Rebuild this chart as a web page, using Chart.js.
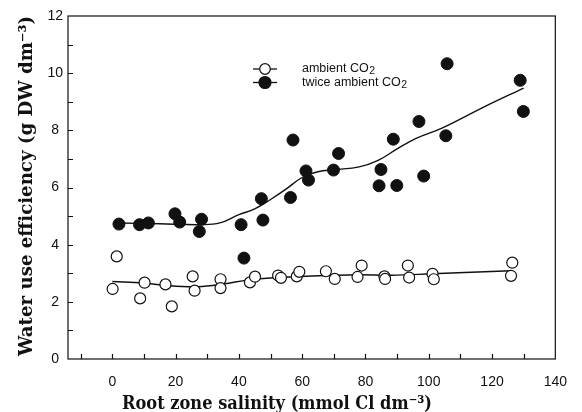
<!DOCTYPE html>
<html>
<head>
<meta charset="utf-8">
<title>Water use efficiency vs root zone salinity</title>
<script src="https://cdn.jsdelivr.net/npm/chart.js@4.4.1/dist/chart.umd.min.js"></script>
<style>
  html, body { margin: 0; padding: 0; background: #fff; }
  canvas { display: block; }
</style>
</head>
<body>
<canvas id="wue" width="582" height="412"></canvas>
<script>
// ambient CO2: root zone salinity (mmol Cl dm-3) and WUE (g DW dm-3)
var ambientX = [0.1, 1.4, 8.8, 10.2, 16.8, 18.8, 25.4, 26.0, 34.2, 34.2, 43.5, 45.1, 52.4, 53.3,
                58.3, 59.1, 67.5, 70.3, 77.5, 78.8, 86.0, 86.2, 93.4, 93.8, 101.2, 101.6, 126.0, 126.4];
var ambientY = [2.45, 3.59, 2.12, 2.67, 2.61, 1.84, 2.89, 2.39, 2.79, 2.48, 2.68, 2.88, 2.92, 2.84,
                2.89, 3.05, 3.07, 2.80, 2.87, 3.27, 2.89, 2.80, 3.27, 2.85, 2.98, 2.79, 2.91, 3.37];

// twice ambient CO2
var twiceX = [2.1, 8.6, 11.4, 19.8, 21.3, 27.5, 28.2, 40.7, 41.6, 47.1, 47.6, 56.3, 57.1, 61.2,
              62.0, 69.9, 71.5, 84.9, 84.3, 89.9, 88.8, 96.9, 98.4, 105.4, 105.8, 128.9, 129.9];
var twiceY = [4.72, 4.70, 4.76, 5.08, 4.79, 4.46, 4.89, 4.70, 3.53, 5.61, 4.86, 5.65, 7.66, 6.58,
              6.26, 6.61, 7.19, 6.63, 6.06, 6.07, 7.69, 8.31, 6.40, 7.81, 10.33, 9.75, 8.66];

// smoothed trend lines
var ambientFitX = [0, 10, 17, 27, 35, 43, 51, 58, 68, 78, 88, 101, 126];
var ambientFitY = [2.71, 2.66, 2.57, 2.53, 2.62, 2.77, 2.84, 2.88, 2.92, 2.95, 2.93, 2.98, 3.09];
var twiceFitX = [2, 15, 28, 34, 40, 45, 50, 55, 60, 65, 70, 78, 84, 90, 96, 104, 118, 130];
var twiceFitY = [4.76, 4.73, 4.70, 4.76, 5.05, 5.25, 5.58, 5.95, 6.35, 6.55, 6.62, 6.72, 6.95,
                 7.35, 7.72, 8.07, 8.85, 9.48];

var xTickLabels = [0, 20, 40, 60, 80, 100, 120, 140];
var yTickLabels = [0, 2, 4, 6, 8, 10, 12];

function pairs(xs, ys) {
    return xs.map(function (x, i) { return { x: x, y: ys[i] }; });
}

// frame, inward ticks, axis titles and the legend box
var decorations = {
    id: 'decorations',
    afterDraw: function (chart) {
        var ctx = chart.ctx, a = chart.chartArea;
        var xs = chart.scales.x, ys = chart.scales.y;
        ctx.save();
        ctx.strokeStyle = '#111';
        ctx.lineWidth = 1.2;
        ctx.strokeRect(a.left, a.top, a.right - a.left, a.bottom - a.top);

        ctx.beginPath();
        for (var v = -10; v < 140; v += 10) {
            var px = Math.round(xs.getPixelForValue(v)) + 0.5;
            ctx.moveTo(px, a.bottom);
            ctx.lineTo(px, a.bottom - 5);
        }
        for (var w = 1; w < 12; w++) {
            var py = Math.round(ys.getPixelForValue(w)) + 0.5;
            ctx.moveTo(a.left, py);
            ctx.lineTo(a.left + 5, py);
        }
        ctx.stroke();

        // axis titles
        ctx.fillStyle = '#111';
        ctx.font = 'bold 19px "DejaVu Serif"';
        ctx.textAlign = 'center';
        ctx.textBaseline = 'alphabetic';
        ctx.fillText('Root zone salinity (mmol Cl dm\u207B\u00B3)', 277, 409, 310);

        ctx.save();
        ctx.translate(32, 186);
        ctx.rotate(-Math.PI / 2);
        ctx.fillText('Water use efficiency (g DW dm\u207B\u00B3)', 0, 0, 340);
        ctx.restore();

        // legend
        var rows = [
            { label: 'ambient CO', fill: '#fff', r: 5.3, y: 69 },
            { label: 'twice ambient CO', fill: '#111', r: 6, y: 82.5 }
        ];
        var mainFont = '12.5px "Liberation Sans", Arial, sans-serif';
        var subFont = '10.5px "Liberation Sans", Arial, sans-serif';
        ctx.textAlign = 'left';
        ctx.textBaseline = 'middle';
        rows.forEach(function (row) {
            ctx.beginPath();
            ctx.moveTo(253, row.y);
            ctx.lineTo(277, row.y);
            ctx.lineWidth = 1.3;
            ctx.stroke();
            ctx.beginPath();
            ctx.arc(265, row.y, row.r, 0, Math.PI * 2);
            ctx.fillStyle = row.fill;
            ctx.fill();
            ctx.lineWidth = 1.2;
            ctx.stroke();
            ctx.fillStyle = '#111';
            ctx.font = mainFont;
            ctx.fillText(row.label, 302, row.y);
            var tw = ctx.measureText(row.label).width;
            ctx.font = subFont;
            ctx.fillText('2', 302 + tw + 0.5, row.y + 2.5);
        });
        ctx.restore();
    }
};

new Chart(document.getElementById('wue'), {
    type: 'scatter',
    data: {
        datasets: [{
            label: 'ambient CO2',
            data: pairs(ambientX, ambientY),
            pointRadius: 5.5,
            pointBackgroundColor: '#fff',
            pointBorderColor: '#111',
            pointBorderWidth: 1.2,
            order: 0
        }, {
            label: 'twice ambient CO2',
            data: pairs(twiceX, twiceY),
            pointRadius: 6,
            pointBackgroundColor: '#111',
            pointBorderColor: '#111',
            pointBorderWidth: 1,
            order: 0
        }, {
            label: 'ambient fit',
            type: 'line',
            data: pairs(ambientFitX, ambientFitY),
            borderColor: '#111',
            borderWidth: 1.4,
            pointRadius: 0,
            tension: 0.4,
            fill: false,
            order: 1
        }, {
            label: 'twice fit',
            type: 'line',
            data: pairs(twiceFitX, twiceFitY),
            borderColor: '#111',
            borderWidth: 1.4,
            pointRadius: 0,
            tension: 0.4,
            fill: false,
            order: 1
        }]
    },
    options: {
        responsive: false,
        animation: false,
        devicePixelRatio: 1,
        layout: { padding: { left: 0, top: 16, right: 13, bottom: 0 } },
        plugins: {
            legend: { display: false },
            tooltip: { enabled: false }
        },
        scales: {
            x: {
                type: 'linear',
                min: -14,
                max: 140,
                grid: { display: false, drawTicks: false },
                border: { display: false },
                afterBuildTicks: function (s) {
                    s.ticks = xTickLabels.map(function (v) { return { value: v }; });
                },
                afterFit: function (s) { s.height = 53; },
                ticks: {
                    autoSkip: false,
                    maxRotation: 0,
                    padding: 15,
                    color: '#111',
                    font: { family: '"Liberation Sans", Arial, sans-serif', size: 14 }
                }
            },
            y: {
                type: 'linear',
                min: 0,
                max: 12,
                grid: { display: false, drawTicks: false },
                border: { display: false },
                afterBuildTicks: function (s) {
                    s.ticks = yTickLabels.map(function (v) { return { value: v }; });
                },
                afterFit: function (s) { s.width = 68; },
                ticks: {
                    crossAlign: 'center',
                    padding: 5,
                    color: '#111',
                    font: { family: '"Liberation Sans", Arial, sans-serif', size: 14 }
                }
            }
        }
    },
    plugins: [decorations]
});
</script>
</body>
</html>
